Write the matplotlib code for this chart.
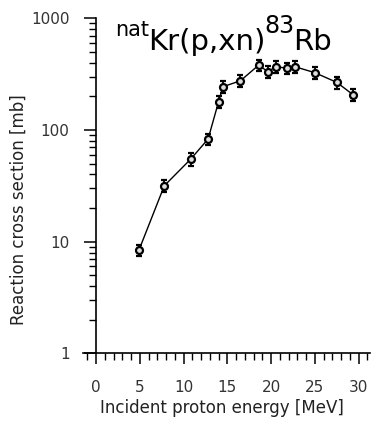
import matplotlib
matplotlib.use("Agg")
import matplotlib.pyplot as plt
from matplotlib.ticker import FixedLocator, LogLocator, NullFormatter, MultipleLocator
from matplotlib.transforms import IdentityTransform

plt.rcParams["font.family"] = ["DejaVu Sans"]

# data
energy = [4.9, 7.8, 10.8, 12.8, 14.0, 14.5, 16.5, 18.6, 19.6, 20.6, 21.8, 22.7, 25.0, 27.5, 29.4]
xsec = [8.4, 31.7, 54.7, 83, 179, 244, 276, 382, 333, 369, 357, 369, 326, 267, 206]
xsec_err = [1.0, 4, 7, 10, 22, 30, 33, 45, 40, 44, 43, 44, 39, 32, 25]

y_ticks = [1, 10, 100, 1000]
y_ticklabels = ["1", "10", "100", "1000"]
x_ticks = [0, 5, 10, 15, 20, 25, 30]

fig = plt.figure(figsize=(3.75, 4.26), dpi=100)
ax = fig.add_axes([83 / 375, 1 - 353.4 / 426, 287 / 375, (353.4 - 18.3) / 426])

ax.errorbar(energy, xsec, yerr=xsec_err, fmt="-o", color="black", lw=1.0,
            ms=5, mfc="#dddddd", mec="black", mew=1.6,
            elinewidth=1.3, capsize=2.5, capthick=1.3)

ax.set_yscale("log")
ax.set_ylim(1, 1000)
ax.set_xlim(-1.49, 31.3)

ax.spines["top"].set_visible(False)
ax.spines["right"].set_visible(False)
ax.spines["left"].set_position(("data", 0))
ax.spines["left"].set_linewidth(1.2)
ax.spines["bottom"].set_linewidth(1.2)

ax.yaxis.set_major_locator(FixedLocator(y_ticks))
ax.set_yticklabels(y_ticklabels)
ax.yaxis.set_minor_locator(LogLocator(base=10, subs=range(2, 10)))
ax.yaxis.set_minor_formatter(NullFormatter())
ax.xaxis.set_major_locator(FixedLocator(x_ticks))
ax.xaxis.set_minor_locator(MultipleLocator(1))

ax.tick_params(axis="y", which="major", direction="out", length=9, width=1.1,
               pad=10, labelsize=11, labelcolor="#333333")
ax.tick_params(axis="y", which="minor", direction="out", length=5, width=1.0)
ax.tick_params(axis="x", which="major", direction="out", length=8, width=1.1,
               pad=11, labelsize=11, labelcolor="#333333")
ax.tick_params(axis="x", which="minor", direction="out", length=5, width=1.0)

fig.text(222 / 375, 1 - 408 / 426, "Incident proton energy [MeV]",
         ha="center", va="center", fontsize=12, color="#222222")
fig.text(19 / 375, 1 - 210 / 426, "Reaction cross section [mb]",
         ha="center", va="center", rotation=90, fontsize=12, color="#222222")

# title built from pieces: nat (sup) Kr(p,xn) 83 (sup) Rb
pieces = [("nat", 15, 36), ("Kr(p,xn)", 21, 50), ("83", 17, 33), ("Rb", 21, 50)]
renderer = fig.canvas.get_renderer()
x = 115
for s, size, base in pieces:
    t = fig.text(x, 426 - base, s, fontsize=size, va="baseline",
                 transform=IdentityTransform(), color="black")
    bb = t.get_window_extent(renderer)
    x = bb.x1 - 1

fig.savefig("out.png", dpi=100)
